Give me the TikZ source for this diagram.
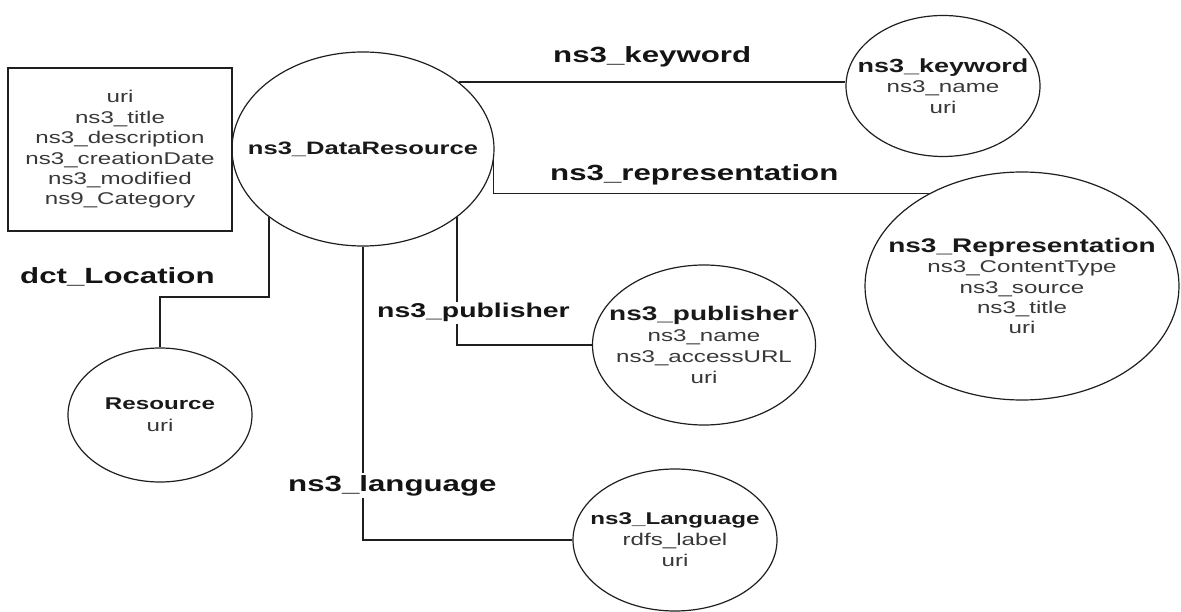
\documentclass[tikz,border=0pt]{standalone}
\usepackage{fontspec}
\setmainfont{Liberation Sans}[FakeStretch=1.42]
\usetikzlibrary{shapes.geometric}
\newcommand\entitle[2]{{\fontsize{#1}{#1}\selectfont\bfseries\color{black!90}#2}}
\begin{document}
\begin{tikzpicture}[x=1pt,y=-1pt,
  edge/.style={draw=black!88, line width=1.2pt},
  entity/.style={ellipse, draw=black!88, line width=1.2pt, inner sep=0pt},
  entitytext/.style={align=center, inner sep=0pt, text=black!78,
    font=\fontsize{17}{20.5}\selectfont},
  attrbox/.style={rectangle, draw=black!88, line width=1.2pt, inner sep=0pt,
    align=center, text=black!78, font=\fontsize{17}{20.4}\selectfont},
  rel/.style={font=\bfseries\fontsize{22}{24}\selectfont, text=black!92,
    inner sep=0pt, anchor=base west},
]
\useasboundingbox (0,0) rectangle (1181,612);

% attribute list of the data resource
\node[attrbox, minimum width=224pt, minimum height=163pt] (attrs) at (120,149.5)
  {uri\\ ns3\_title\\ ns3\_description\\ ns3\_creationDate\\ ns3\_modified\\ ns9\_Category};

% entities
\node[entity, minimum width=262pt, minimum height=194pt] (dr) at (363,149) {};
\node[entitytext] (dr-t) at (dr.center) {\entitle{18}{ns3\_DataResource}};

\node[entity, minimum width=194pt, minimum height=141pt] (kw) at (943,86) {};
\node[entitytext] (kw-t) at (kw.center) {\entitle{19}{ns3\_keyword}\\ ns3\_name\\ uri};

\node[entity, minimum width=314pt, minimum height=228pt] (rep) at (1022,286) {};
\node[entitytext, font=\fontsize{17}{20.2}\selectfont] (rep-t) at (rep.center)
  {\entitle{19.7}{ns3\_Representation}\\ ns3\_ContentType\\ ns3\_source\\ ns3\_title\\ uri};

\node[entity, minimum width=223pt, minimum height=160pt] (pub) at (704,345) {};
\node[entitytext, font=\fontsize{17}{21}\selectfont] (pub-t) at (pub.center)
  {\entitle{19.7}{ns3\_publisher}\\ ns3\_name\\ ns3\_accessURL\\ uri};

\node[entity, minimum width=204pt, minimum height=142pt] (lang) at (675,540) {};
\node[entitytext, font=\fontsize{17}{21}\selectfont] (lang-t) at (lang.center)
  {\entitle{17}{ns3\_Language}\\ rdfs\_label\\ uri};

\node[entity, minimum width=184pt, minimum height=134pt] (res) at (160,415) {};
\node[entitytext, font=\fontsize{17}{22}\selectfont] (res-t) at (res.center)
  {\entitle{17}{Resource}\\ uri};

% connectors
\draw[edge] (dr.35.2) -- (dr.35.2 -| kw.west);
\draw[edge] (dr.-5.3) |- (rep.135.3);
\draw[edge] (dr.-36.9) |- (pub.west);
\draw[edge] (dr.south) |- (lang.west);
\coordinate (locrow) at (0,297);
\draw[edge] (dr.216.2) |- (locrow -| res.north) -- (res.north);

% relation names
\node[rel] (l-kw) at (553,63) {ns3\_keyword};
\node[rel] (l-rep) at (550,181) {ns3\_representation};
\node[rel] (l-loc) at (20,284) {dct\_Location};
\node[rel, font=\bfseries\fontsize{20}{22}\selectfont, fill=white, inner sep=2pt]
  (l-pub) at (375,318) {ns3\_publisher};
\node[rel, fill=white, inner sep=2pt] (l-lang) at (286,491) {ns3\_language};
\end{tikzpicture}
\end{document}
